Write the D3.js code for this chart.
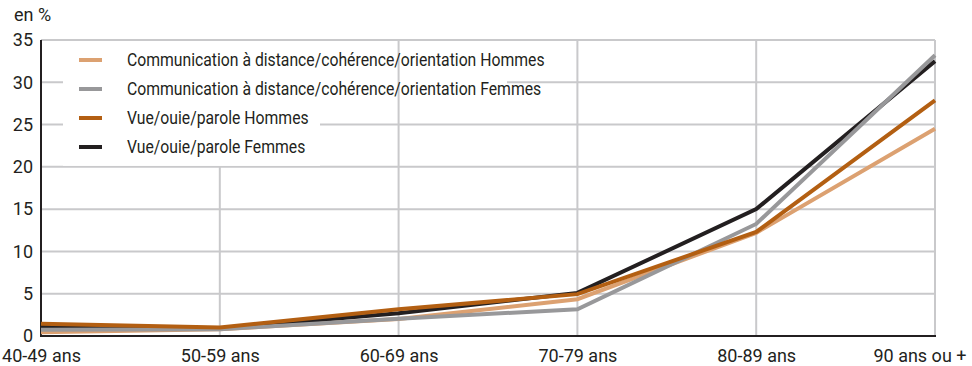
<!DOCTYPE html>
<html>
<head>
<meta charset="utf-8">
<script src="https://cdn.jsdelivr.net/npm/d3@7"></script>
<style>
  html, body { margin: 0; padding: 0; background: #fff; }
  svg text { font-family: Roboto, "Liberation Sans", sans-serif; fill: #231f20; }
</style>
</head>
<body>
<svg id="chart" width="972" height="366"></svg>
<script>
// Age groups along the x axis
const categories = ["40-49 ans", "50-59 ans", "60-69 ans", "70-79 ans", "80-89 ans", "90 ans ou +"];

// Share of people with each limitation, in %
const commHommes = [0.45, 0.8, 2.0, 4.35, 12.2, 24.5];
const commFemmes = [0.75, 0.8, 2.05, 3.15, 13.25, 33.2];
const vueHommes  = [1.45, 1.0, 3.15, 4.95, 12.3, 27.85];
const vueFemmes  = [1.15, 0.9, 2.7, 5.1, 15.0, 32.5];

const seriesNames = [
  "Communication à distance/cohérence/orientation Hommes",
  "Communication à distance/cohérence/orientation Femmes",
  "Vue/ouie/parole Hommes",
  "Vue/ouie/parole Femmes"
];
const yTicks = [0, 5, 10, 15, 20, 25, 30, 35];

const colors = ["#dca171", "#98989a", "#b35f12", "#231f20"];
const seriesValues = [commHommes, commFemmes, vueHommes, vueFemmes];
const series = seriesNames.map((name, i) => ({ name, values: seriesValues[i], color: colors[i] }));

const svg = d3.select("#chart");
const margin = { left: 41, right: 37, top: 40, bottom: 30 };
const W = 972, H = 366;
const fontSize = 18;
const narrow = 0.875; // horizontal squeeze for a condensed look

const x = d3.scalePoint().domain(categories).range([margin.left, W - margin.right]);
const y = d3.scaleLinear().domain([0, 35]).range([H - margin.bottom, margin.top]);

const gridColor = "#c9c9cb";

// Horizontal grid
svg.append("g").selectAll("line").data(yTicks.slice(1)).join("line")
  .attr("x1", margin.left).attr("x2", W - margin.right)
  .attr("y1", d => y(d)).attr("y2", d => y(d))
  .attr("stroke", gridColor).attr("stroke-width", 2);

// Legend backgrounds (white panels behind the entries)
const legendX = 63;
const rowH = 29;
const legendTop = y(35) + 5;
const legendBg = svg.append("g");
legendBg.append("rect")
  .attr("x", legendX).attr("y", legendTop)
  .attr("width", 257).attr("height", y(20) - legendTop - 1)
  .attr("fill", "#fff");
legendBg.append("rect")
  .attr("x", legendX).attr("y", legendTop)
  .attr("width", 444).attr("height", rowH * 2 + 1)
  .attr("fill", "#fff");

// Vertical grid; lines inside the legend panel begin under it
svg.append("g").selectAll("line").data(categories.slice(1)).join("line")
  .attr("x1", d => x(d)).attr("x2", d => x(d))
  .attr("y1", d => (x(d) > legendX && x(d) < legendX + 257 ? y(20) : y(35)))
  .attr("y2", y(0))
  .attr("stroke", gridColor).attr("stroke-width", 2);

// Axes
const yAxis = d3.axisLeft(y).tickValues(yTicks).tickSize(0).tickPadding(8);
const gy = svg.append("g").attr("transform", `translate(${margin.left},0)`).call(yAxis);
gy.select(".domain").remove();
gy.selectAll("text").attr("font-size", fontSize).style("font-family", null);

const xAxis = d3.axisBottom(x).tickSize(0).tickPadding(13);
const gx = svg.append("g").attr("transform", `translate(0,${y(0)})`).call(xAxis);
gx.select(".domain").remove();
gx.selectAll("text").attr("font-size", fontSize).style("font-family", null);
// keep the last label inside the page
gx.selectAll(".tick").filter(d => d === categories[categories.length - 1])
  .select("text").attr("text-anchor", "end").attr("x", W - 6 - x(categories[categories.length - 1]));

// Axis lines
svg.append("line")
  .attr("x1", margin.left).attr("x2", margin.left)
  .attr("y1", y(35)).attr("y2", y(0) + 1)
  .attr("stroke", "#231f20").attr("stroke-width", 2);
svg.append("line")
  .attr("x1", margin.left - 1).attr("x2", W - margin.right + 1)
  .attr("y1", y(0)).attr("y2", y(0))
  .attr("stroke", "#231f20").attr("stroke-width", 2);

svg.append("text").attr("x", 14).attr("y", 21).attr("font-size", fontSize).text("en %");

// Lines, stacked in drawing order
const line = d3.line().x((d, i) => x(categories[i])).y(d => y(d));
const drawOrder = [0, 3, 1, 2];
svg.append("g").selectAll("path").data(drawOrder.map(i => series[i])).join("path")
  .attr("d", d => line(d.values))
  .attr("fill", "none")
  .attr("stroke", d => d.color)
  .attr("stroke-width", 4)
  .attr("stroke-linejoin", "miter");

// Legend entries
const lg = svg.append("g").selectAll("g").data(series).join("g")
  .attr("transform", (d, i) => `translate(79,${60 + i * rowH})`);
lg.append("line").attr("x1", 0).attr("x2", 23).attr("y1", 0).attr("y2", 0)
  .attr("stroke", d => d.color).attr("stroke-width", 4);
lg.append("text")
  .attr("transform", `translate(48,0) scale(${narrow},1)`)
  .attr("dy", "0.35em")
  .attr("font-size", fontSize).text(d => d.name);
</script>
</body>
</html>
